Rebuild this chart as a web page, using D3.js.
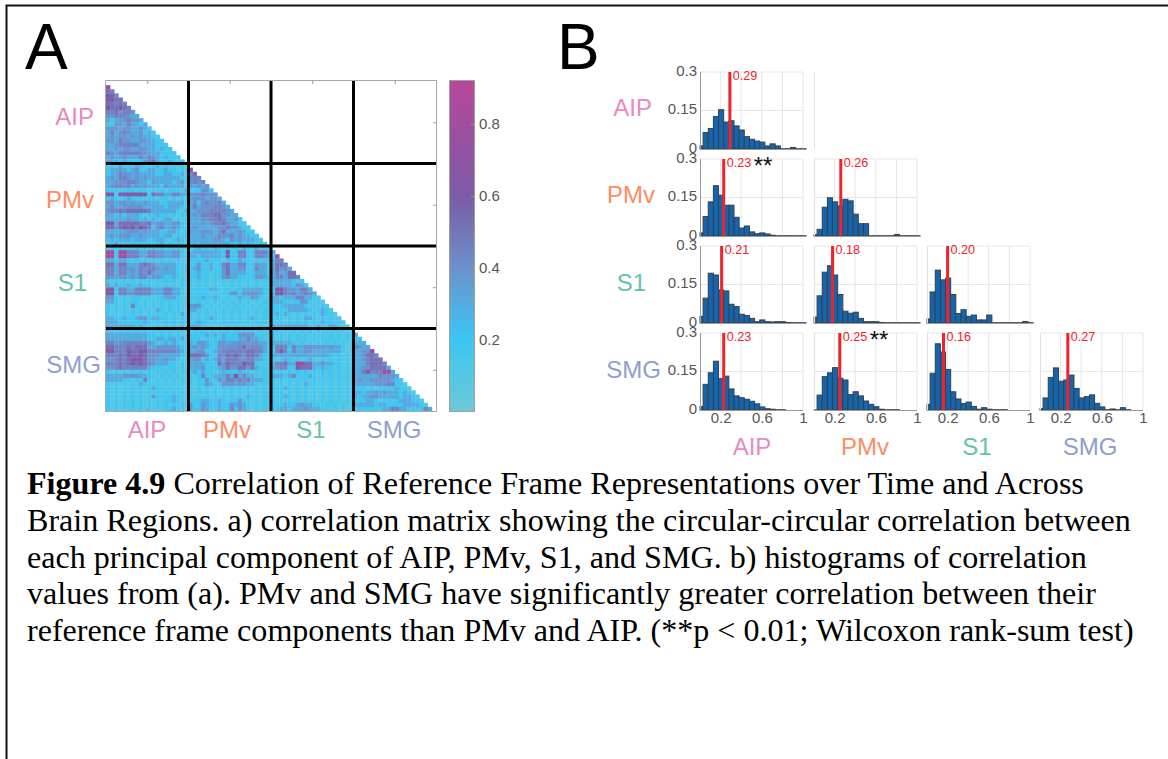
<!DOCTYPE html>
<html>
<head>
<meta charset="utf-8">
<script src="https://cdn.jsdelivr.net/npm/d3@7"></script>
<style>
  html, body { margin: 0; padding: 0; background: #fff; }
  svg { display: block; }
  text { font-family: "Liberation Sans", Arial, sans-serif; }
  .caption text { font-family: "Liberation Serif", "Times New Roman", serif; font-size: 32.1px; fill: #000; }
</style>
</head>
<body>
<svg class="fig" width="1168" height="759"></svg>
<script>
const regions = ["AIP", "PMv", "S1", "SMG"];
const regionCols = ["#e78ac3", "#fc8d62", "#66c2a5", "#8da0cb"];

// correlation read for each digit used in corrRows
const corrLevels = [0, 0.09, 0.18, 0.3, 0.38, 0.45, 0.52, 0.6, 0.78, 0.88];

// one string per row of the lower triangle, spaces split the regions
const corrRows = [
  "8",
  "65",
  "775",
  "7766",
  "66565",
  "766765",
  "5564554",
  "44555433",
  "323445443",
  "2244353323",
  "44434433432",
  "353454334232",
  "3434434343322",
  "44354433443322",
  "334555553333222",
  "3343443344332322",
  "54355555443332222",
  "343343335354323222",
  "3332322224563223212",
  "12131213221231212121",
  "23343234223322322121 8",
  "23354434333322332231 46",
  "34355434343333333321 555",
  "33444554332433332341 4545",
  "34554534343332433331 43434",
  "22212221221212122213 222442",
  "77277777772655335533 4445444",
  "23212322212212212121 34443443",
  "44344343343332233331 342454453",
  "35334444433333233321 3534445543",
  "45565666665333333213 33444555543",
  "33232333212232212121 343555664433",
  "33333433232322331212 3334455653342",
  "77366666556344334421 33343455643322",
  "66467675765245334321 343333344544322",
  "33333444343332233212 4334443463334322",
  "34344433433332331212 33343335445343322",
  "23233323332233212321 333333443243433321",
  "12312121212123121211 2323333333223232121",
  "12121212121212121211 12312132121213213121",
  "88288555335544334421 23333333272255225553 3",
  "88288555335544334421 33233333272255225543 28",
  "33233212121212121211 22223222122232212121 355",
  "66366333565433333212 22422322563355224331 3665",
  "55355443545543433212 23422322463344225331 36453",
  "55355343546433333211 22322122463333223331 353366",
  "44344343553443223211 22322122453322224432 3553665",
  "21212121212121212121 21212121212121212121 33333212",
  "32322322322121212121 21212121212121212121 333332432",
  "77255335555333553321 22222332121223333321 2775443553",
  "77255445555333553321 21222121224424444321 27754534543",
  "44212122212122333211 22232232121232243211 332333553321",
  "33212122121212121211 21212121212121212121 3332122442121",
  "21212152121212121211 44421212121212121211 22233333212121",
  "21212121212132121211 33212121212121212121 222233333212321",
  "21212121212121212131 21212121212121212121 2323212121213221",
  "33223223442332212121 21212321212121232121 22212121332121211",
  "33322122232121212121 22322121212121212121 212121212121322121",
  "33333332322121212121 33321212121212121211 3333333332232243211",
  "12121212121212121211 12121212121212121211 12121212121212121211",
  "33333333332212121211 22223232322244442121 21212121212121212121 3",
  "33333333332233233231 22212122322233533211 21212121212121212121 22",
  "55445555554322323211 32443224434444444331 33333212121212121211 333",
  "66555656663344444321 34343224444456455431 25552533444443433211 5433",
  "77555766775555555431 33442234555555665531 25752533443333333211 33448",
  "55565766764443333321 66654225465654665321 33333333333333212121 334665",
  "44565677764433433211 34423235355544553321 21232121232121212121 3345666",
  "55565676765433322121 33332226465557662121 35563388663343322121 33356665",
  "44565555553222122121 33342223464466463211 34552276663232212121 334466663",
  "21212121212121212121 23232212322232212121 21212121212121212121 3358555883",
  "33334444332212121211 21252233353735332121 33323522232121212121 33333354443",
  "33332212252121212121 21224224355454533321 21212121212121212121 343344444321",
  "21212121322121212121 21224322444344332121 21212121322121212121 3333344455221",
  "21212121212322121211 21212121212121212121 22232121212121212121 22212122223221",
  "21212121212121212121 21212121212121212121 21212121212121212121 332334343332321",
  "21212121212422223211 21212121212121322121 22232121212121212121 3233443333323321",
  "21212121212121223211 22233223212242212121 21212121212121212121 22233212212333221",
  "21212121212121212121 42243223224343212121 22232234332212121211 333332332222333321",
  "21212121212121223211 42243223225243212121 22332333433322121211 2222222335533222253"
];

// relative frequency per bin, first bar sits against the axis
const histAipAip = [.012,.064,.08,.127,.153,.105,.11,.09,.074,.048,.038,.031,.027,.012,.02,.012,.001,.001,.006,.001,.001];
const histPmvAip = [.012,.076,.133,.196,.159,.12,.12,.073,.031,.039,.016,.009,.012,.008,.003,.001,.001,.001,.001,.001,.001];
const histPmvPmv = [.005,.026,.112,.149,.133,.117,.143,.137,.085,.048,.048,.001,.001,.001,.001,.001,.006,.001,.001,.001,.001];
const histS1Aip = [.026,.097,.194,.187,.129,.125,.073,.064,.034,.029,.018,.005,.012,.005,.004,.005,.005,.002,.001,.001,.001];
const histS1Pmv = [.023,.106,.198,.223,.187,.111,.046,.038,.042,.018,.005,.005,.005,.002,.001,.001,.001,.001,.001,.001,.001];
const histS1S1 = [.016,.121,.206,.168,.175,.111,.037,.052,.026,.031,.012,.012,.031,.001,.001,.001,.001,.001,.001,.006,.001];
const histSmgAip = [.013,.1,.145,.19,.122,.132,.082,.055,.048,.042,.034,.024,.012,.005,.003,.001,.001,0,0,0,0];
const histSmgPmv = [.001,.058,.13,.145,.165,.124,.117,.06,.071,.055,.035,.022,.013,.003,.001,.001,.001,0,0,0,0];
const histSmgS1 = [.022,.143,.258,.226,.158,.071,.043,.025,.031,.014,.003,.009,.003,.001,.001,.001,0,0,0,0,0];
const histSmgSmg = [.005,.047,.127,.164,.112,.117,.136,.084,.047,.052,.059,.026,.012,.001,.004,.001,.009,.001,0,0,0];

const panels = [
  {row: 0, col: 0, bins: histAipAip, mean: 0.29, stars: false},
  {row: 1, col: 0, bins: histPmvAip, mean: 0.23, stars: true},
  {row: 1, col: 1, bins: histPmvPmv, mean: 0.26, stars: false},
  {row: 2, col: 0, bins: histS1Aip, mean: 0.21, stars: false},
  {row: 2, col: 1, bins: histS1Pmv, mean: 0.18, stars: false},
  {row: 2, col: 2, bins: histS1S1, mean: 0.20, stars: false},
  {row: 3, col: 0, bins: histSmgAip, mean: 0.23, stars: false},
  {row: 3, col: 1, bins: histSmgPmv, mean: 0.25, stars: true},
  {row: 3, col: 2, bins: histSmgS1, mean: 0.16, stars: false},
  {row: 3, col: 3, bins: histSmgSmg, mean: 0.27, stars: false}
];

const captionLines = [
  [{t: "Figure 4.9", b: true}, {t: " Correlation of Reference Frame Representations over Time and Across"}],
  [{t: "Brain Regions. a) correlation matrix showing the circular-circular correlation between"}],
  [{t: "each principal component of AIP, PMv, S1, and SMG. b) histograms of correlation"}],
  [{t: "values from (a). PMv and SMG have significantly greater correlation between their"}],
  [{t: "reference frame components than PMv and AIP. (**p < 0.01; Wilcoxon rank-sum test)"}]
];

const svg = d3.select("svg.fig");

// the matrix in the figure is a scaled-up bitmap, so its cells run together a little
svg.append("defs").append("filter").attr("id", "soft")
  .attr("x", "-2%").attr("y", "-2%").attr("width", "104%").attr("height", "104%")
  .append("feGaussianBlur").attr("stdDeviation", 0.55);

// page frame, open on the right and bottom
svg.append("path").attr("d", "M6.5,759V5.5H1168").attr("fill", "none").attr("stroke", "#111").attr("stroke-width", 2);

svg.append("text").text("A").attr("x", 25).attr("y", 69).attr("font-size", 64);
svg.append("text").text("B").attr("x", 557).attr("y", 69).attr("font-size", 64);

/* ---- panel A, correlation matrix ---- */
const colorScale = d3.scaleLinear()
  .domain([0.003, 0.2, 0.4, 0.6, 0.92])
  .range(["#6cc8d6", "#3cc6f4", "#6d90cb", "#7c5ba8", "#b8479b"]);

const idx = d3.range(80);
const mx = d3.scaleBand().domain(idx).range([106, 436]);
const my = d3.scaleBand().domain(idx).range([81, 411]);

const cells = [];
corrRows.forEach((s, i) => {
  s.replace(/ /g, "").split("").forEach((ch, j) => {
    cells.push({row: i + 1, col: j, value: corrLevels[+ch]});
  });
});

const gA = svg.append("g");
gA.append("g").attr("filter", "url(#soft)")
  .selectAll("rect.cell")
  .data(cells)
  .enter()
  .append("rect")
  .attr("class", "cell")
  .attr("x", d => mx(d.col))
  .attr("y", d => my(d.row))
  .attr("width", mx.bandwidth() + 0.3)
  .attr("height", my.bandwidth() + 0.3)
  .attr("fill", d => colorScale(d.value));

gA.append("rect").attr("x", 105.5).attr("y", 80.5).attr("width", 331).attr("height", 331)
  .attr("fill", "none").attr("stroke", "#a8a8a8");

// the ticks sit at 10, 30, 50, 70 on every side
const matTicks = [10, 30, 50, 70];
const tickPos = d3.scaleLinear().domain([0, 80]);
[["top", 81], ["bottom", 411]].forEach(([side, yy]) => {
  const ax = (side === "top" ? d3.axisBottom : d3.axisTop)(tickPos.copy().range([106, 436]))
    .tickValues(matTicks).tickSize(3).tickFormat("");
  const g = gA.append("g").attr("transform", `translate(0,${yy})`).call(ax);
  g.select(".domain").remove();
  g.selectAll("line").attr("stroke", "#999");
});
[["left", 106], ["right", 436]].forEach(([side, xx]) => {
  const ax = (side === "left" ? d3.axisRight : d3.axisLeft)(tickPos.copy().range([81, 411]))
    .tickValues(matTicks).tickSize(3).tickFormat("");
  const g = gA.append("g").attr("transform", `translate(${xx},0)`).call(ax);
  g.select(".domain").remove();
  g.selectAll("line").attr("stroke", "#999");
});

[20, 40, 60].forEach(k => {
  gA.append("line").attr("x1", mx(k)).attr("x2", mx(k)).attr("y1", 81).attr("y2", 411)
    .attr("stroke", "#000").attr("stroke-width", 3);
  gA.append("line").attr("y1", my(k)).attr("y2", my(k)).attr("x1", 106).attr("x2", 436)
    .attr("stroke", "#000").attr("stroke-width", 3);
});

const labY = [125, 208, 291, 373];
const labXEnd = [94, 94, 87, 101];
const labBot = [147, 227, 311, 394];
regions.forEach((r, i) => {
  gA.append("text").text(r).attr("x", labXEnd[i]).attr("y", labY[i])
    .attr("text-anchor", "end").attr("font-size", 24).attr("fill", regionCols[i]);
  gA.append("text").text(r).attr("x", labBot[i]).attr("y", 438)
    .attr("text-anchor", "middle").attr("font-size", 24).attr("fill", regionCols[i]);
});

// colorbar
const cbY = d3.scaleLinear().domain([0.003, 0.92]).range([411, 81]);
const cbVals = d3.range(0, 110).map(i => 0.003 + (0.92 - 0.003) * i / 110);
gA.selectAll("rect.cb")
  .data(cbVals)
  .enter()
  .append("rect")
  .attr("class", "cb")
  .attr("x", 449)
  .attr("width", 25)
  .attr("y", d => cbY(d + (0.92 - 0.003) / 110))
  .attr("height", 3.6)
  .attr("fill", d => colorScale(d));
gA.append("rect").attr("x", 449.5).attr("y", 80.5).attr("width", 25).attr("height", 331)
  .attr("fill", "none").attr("stroke", "#a0a0a0");
const cbAxis = gA.append("g").attr("transform", "translate(474,0)")
  .call(d3.axisRight(cbY).tickValues([0.2, 0.4, 0.6, 0.8]).tickSize(-3).tickPadding(5).tickFormat(d3.format(".1f")));
cbAxis.select(".domain").remove();
cbAxis.selectAll("line").attr("stroke", "#999");
cbAxis.selectAll("text").attr("font-size", 15).attr("fill", "#555").style("font-family", '"Liberation Sans"');

/* ---- panel B, histograms ---- */
const colX = [700, 814, 927, 1040];
const rowY = [72, 159, 246, 333];
const pw = 103, ph = 77;
const binW = 0.05;

const hx = d3.scaleLinear().domain([0, 1]).range([0, pw]);
const hy = d3.scaleLinear().domain([0, 0.3]).range([ph, 0]);

const gB = svg.append("g");

// the empty slot next to the first histogram only keeps its left edge
gB.append("line").attr("x1", colX[1] + 0.5).attr("x2", colX[1] + 0.5).attr("y1", rowY[0]).attr("y2", rowY[0] + ph)
  .attr("stroke", "#e3e3e3");

panels.forEach(p => {
  const g = gB.append("g").attr("transform", `translate(${colX[p.col]},${rowY[p.row]})`);

  g.selectAll("line.gx").data([0.2, 0.4, 0.6, 0.8, 1]).enter().append("line")
    .attr("x1", d => hx(d)).attr("x2", d => hx(d)).attr("y1", 0).attr("y2", ph)
    .attr("stroke", "#e6e6e6");
  g.selectAll("line.gy").data([0.15, 0.3]).enter().append("line")
    .attr("x1", 0).attr("x2", pw).attr("y1", d => hy(d)).attr("y2", d => hy(d))
    .attr("stroke", "#e6e6e6");

  g.selectAll("rect.bar")
    .data(p.bins.filter(d => d > 0).map((v, i) => ({v: v, i: i})))
    .enter()
    .append("rect")
    .attr("class", "bar")
    .attr("x", d => hx(d.i === 0 ? 0 : 0.03 + (d.i - 1) * binW))
    .attr("width", d => d.i === 0 ? hx(0.03) : hx(binW))
    .attr("y", d => hy(d.v))
    .attr("height", d => ph - hy(d.v))
    .attr("fill", "#1465ad")
    .attr("stroke", "#36414c")
    .attr("stroke-width", 1);

  // bottom and left edges
  g.append("line").attr("x1", 0).attr("x2", pw).attr("y1", ph + 0.5).attr("y2", ph + 0.5).attr("stroke", "#9a9a9a");
  g.append("line").attr("x1", 0.5).attr("x2", 0.5).attr("y1", 0).attr("y2", ph).attr("stroke", p.col === 0 ? "#9a9a9a" : "#e0e0e0");

  g.append("line")
    .attr("x1", hx(p.mean)).attr("x2", hx(p.mean)).attr("y1", 0).attr("y2", ph)
    .attr("stroke", "#f0222c").attr("stroke-width", 3);
  g.append("text").text(p.mean.toFixed(2))
    .attr("x", hx(p.mean) + 3).attr("y", 8)
    .attr("font-size", 12.6).attr("fill", "#f0222c");
  if (p.stars) {
    g.append("text").text("**")
      .attr("x", hx(p.mean) + 30).attr("y", 15)
      .attr("font-size", 24).attr("fill", "#111");
  }

  if (p.col === 0) {
    const ya = g.append("g").call(d3.axisLeft(hy).tickValues([0, 0.15, 0.3]).tickSize(0).tickPadding(3).tickFormat(d => d));
    ya.select(".domain").remove();
    ya.selectAll("text").attr("font-size", 15).attr("fill", "#555").attr("dy", "0.22em").style("font-family", '"Liberation Sans"');
  }
  if (p.row === 3) {
    const xa = g.append("g").attr("transform", `translate(0,${ph})`)
      .call(d3.axisBottom(hx).tickValues([0.2, 0.6, 1]).tickSize(0).tickPadding(2).tickFormat(d => d));
    xa.select(".domain").remove();
    xa.selectAll("text").attr("font-size", 15).attr("fill", "#555").style("font-family", '"Liberation Sans"');
  }
});

const bLabEnd = [652, 655, 646, 661];
const bLabY = [116, 203, 291, 378];
const bLabBot = [752, 865, 977, 1090];
regions.forEach((r, i) => {
  gB.append("text").text(r).attr("x", bLabEnd[i]).attr("y", bLabY[i])
    .attr("text-anchor", "end").attr("font-size", 24).attr("fill", regionCols[i]);
  gB.append("text").text(r).attr("x", bLabBot[i]).attr("y", 455)
    .attr("text-anchor", "middle").attr("font-size", 24).attr("fill", regionCols[i]);
});

/* ---- caption ---- */
const capG = svg.append("g").attr("class", "caption");
captionLines.forEach((parts, i) => {
  const t = capG.append("text").attr("x", 27).attr("y", 494 + i * 36.8);
  parts.forEach(part => {
    t.append("tspan").text(part.t).attr("font-weight", part.b ? "bold" : "normal");
  });
});
</script>
</body>
</html>
